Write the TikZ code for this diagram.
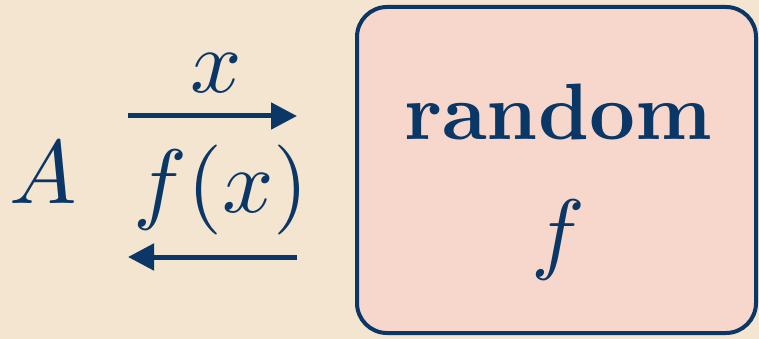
\documentclass[tikz,border=0pt]{standalone}
\usetikzlibrary{arrows.meta}
\definecolor{bg}{HTML}{F3E5CF}
\definecolor{boxfill}{HTML}{F7D7CC}
\definecolor{navy}{HTML}{0A3766}
\tikzset{
  lbl/.style={text=navy, inner sep=0pt, anchor=base},
  mathlbl/.style={lbl, scale=9},
  boldlbl/.style={lbl, scale=8.0, font=\bfseries},
  arr/.style={draw=navy, line width=5pt, -{Triangle[length=26pt,width=26pt]}},
  fbox/.style={draw=navy, line width=4pt, fill=boxfill, rounded corners=30pt}
}
\begin{document}
\begin{tikzpicture}[x=1pt,y=-1pt]
\fill[bg] (0,0) rectangle (759,339);
\useasboundingbox (0,0) rectangle (759,339);
\draw[fbox] (357,7) rectangle (756,333);
\node[mathlbl] (A) at (43,203) {$A$};
\node[mathlbl] (x) at (216,93) {$x$};
\node[mathlbl] (fx) at (221,212) {$f(x)$};
\coordinate (t1) at (128,116);
\coordinate (t2) at (297,116);
\coordinate (b1) at (297,257);
\coordinate (b2) at (128,257);
\draw[arr] (t1) -- (t2);
\draw[arr] (b1) -- (b2);
\node[boldlbl] (rnd) at (558,140) {random};
\node[mathlbl] (f) at (558,262) {$f$};
\end{tikzpicture}
\end{document}
